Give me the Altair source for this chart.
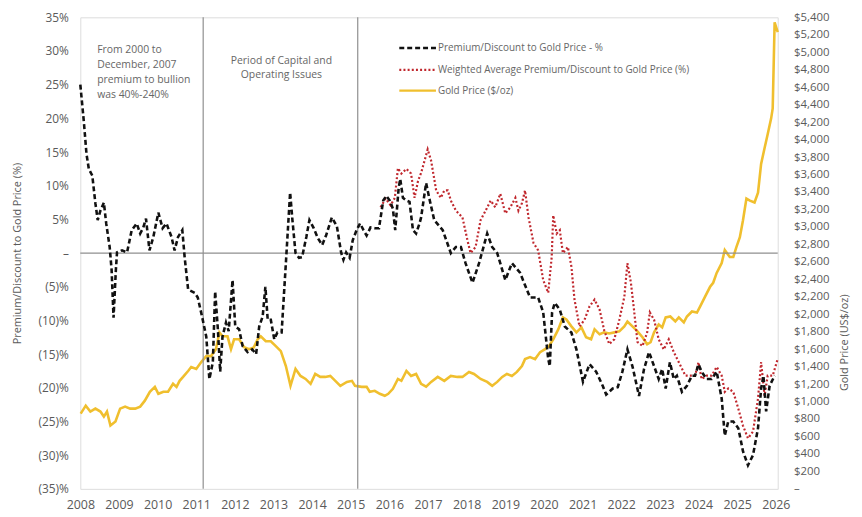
import altair as alt
import pandas as pd

# ---------------- data ----------------
prem_years = [2008.00, 2008.09, 2008.16, 2008.22, 2008.31, 2008.39, 2008.45, 2008.52, 2008.61, 2008.67,
              2008.76, 2008.81, 2008.86, 2008.92, 2008.95, 2009.08, 2009.21, 2009.33, 2009.46, 2009.55,
              2009.63, 2009.70, 2009.79, 2009.89, 2010.02, 2010.13, 2010.23, 2010.36, 2010.44, 2010.53,
              2010.64, 2010.70, 2010.79, 2010.96, 2011.04, 2011.15, 2011.26, 2011.34, 2011.43, 2011.49,
              2011.56, 2011.62, 2011.68, 2011.77, 2011.84, 2011.94, 2012.01, 2012.11, 2012.20, 2012.33,
              2012.45, 2012.55, 2012.63, 2012.72, 2012.79, 2012.85, 2012.93, 2013.02, 2013.10, 2013.21,
              2013.32, 2013.43, 2013.49, 2013.57, 2013.66, 2013.74, 2013.85, 2013.93, 2014.04, 2014.15,
              2014.26, 2014.36, 2014.51, 2014.64, 2014.75, 2014.81, 2014.88, 2014.97, 2015.05, 2015.15,
              2015.24, 2015.33, 2015.41, 2015.51, 2015.62, 2015.73, 2015.84, 2015.92, 2016.01, 2016.09,
              2016.15, 2016.24, 2016.28, 2016.35, 2016.44, 2016.52, 2016.61, 2016.69, 2016.78, 2016.82,
              2016.95, 2017.03, 2017.16, 2017.38, 2017.59, 2017.72, 2017.85, 2017.97, 2018.15, 2018.32,
              2018.53, 2018.66, 2018.79, 2019.00, 2019.17, 2019.38, 2019.64, 2019.85, 2019.98, 2020.11,
              2020.15, 2020.21, 2020.28, 2020.41, 2020.54, 2020.71, 2020.84, 2021.01, 2021.18, 2021.35,
              2021.52, 2021.61, 2021.78, 2021.91, 2022.03, 2022.16, 2022.29, 2022.46, 2022.59, 2022.72,
              2022.85, 2022.97, 2023.06, 2023.15, 2023.26, 2023.36, 2023.44, 2023.57, 2023.70, 2023.83,
              2023.91, 2024.00, 2024.08, 2024.21, 2024.34, 2024.47, 2024.60, 2024.68, 2024.77, 2024.90,
              2025.03, 2025.15, 2025.28, 2025.41, 2025.54, 2025.62, 2025.68, 2025.75, 2025.84, 2025.97]
prem_values = [25.0, 19.6, 14.7, 12.5, 11.5, 7.4, 4.9, 6.3, 7.5, 4.4,
               0.9, -2.5, -9.6, -2.5, 0.1, 0.4, 0.1, 3.4, 4.4, 2.9,
               3.8, 5.1, 0.4, 2.4, 6.0, 3.7, 4.4, 2.4, 0.4, 2.4,
               3.4, -0.6, -5.4, -5.9, -6.6, -9.4, -12.4, -18.7, -16.2, -5.7,
               -11.3, -17.6, -12.4, -10.3, -11.6, -4.0, -10.9, -11.3, -13.8, -14.7,
               -14.3, -15.0, -10.9, -9.4, -5.0, -9.9, -9.9, -12.8, -11.8, -11.8,
               -1.5, 9.0, 4.9, 0.0, -0.7, -0.6, 2.4, 4.9, 3.7, 2.2,
               1.2, 2.6, 5.3, 4.0, 0.1, -1.0, 0.1, -0.7, 1.9, 3.4,
               4.4, 3.4, 2.6, 3.8, 3.7, 3.7, 7.8, 8.5, 7.8, 6.6,
               3.4, 9.7, 11.0, 8.2, 7.8, 7.6, 3.4, 2.9, 4.4, 5.3,
               10.4, 8.2, 4.9, 3.4, 0.0, 0.9, 0.9, -1.5, -4.4, -1.5,
               2.9, 0.9, 0.0, -4.0, -1.5, -2.9, -6.6, -6.6, -8.8, -15.7,
               -16.8, -8.8, -7.4, -8.4, -10.9, -11.8, -14.3, -19.1, -16.5, -17.6,
               -19.7, -21.0, -20.1, -19.9, -17.6, -14.3, -16.8, -21.2, -17.2, -14.7,
               -16.8, -18.7, -17.2, -20.1, -16.2, -18.7, -18.2, -20.6, -19.7, -18.2,
               -18.2, -16.5, -17.6, -18.7, -18.7, -17.6, -21.6, -27.1, -25.0, -25.0,
               -26.0, -29.4, -31.5, -30.0, -26.0, -20.1, -18.2, -23.5, -19.7, -18.2]

wavg_years = [2015.77, 2015.90, 2016.03, 2016.14, 2016.22, 2016.31, 2016.44, 2016.56, 2016.65, 2016.74,
              2016.82, 2016.99, 2017.08, 2017.21, 2017.33, 2017.42, 2017.51, 2017.59, 2017.72, 2017.89,
              2018.02, 2018.10, 2018.23, 2018.36, 2018.49, 2018.62, 2018.74, 2018.87, 2019.00, 2019.13,
              2019.26, 2019.34, 2019.43, 2019.51, 2019.60, 2019.73, 2019.85, 2019.98, 2020.11, 2020.20,
              2020.24, 2020.33, 2020.41, 2020.49, 2020.62, 2020.71, 2020.79, 2020.92, 2021.05, 2021.18,
              2021.31, 2021.44, 2021.56, 2021.69, 2021.82, 2021.95, 2022.08, 2022.16, 2022.25, 2022.33,
              2022.42, 2022.55, 2022.67, 2022.74, 2022.85, 2022.97, 2023.10, 2023.23, 2023.36, 2023.49,
              2023.66, 2023.79, 2023.91, 2024.00, 2024.08, 2024.21, 2024.34, 2024.47, 2024.60, 2024.68,
              2024.77, 2024.90, 2025.03, 2025.15, 2025.28, 2025.41, 2025.54, 2025.62, 2025.71, 2025.79,
              2025.92, 2026.05]
wavg_values = [6.8, 8.1, 7.1, 8.2, 12.6, 11.8, 12.5, 11.8, 8.2, 10.7,
               11.9, 15.4, 13.7, 9.3, 8.2, 9.3, 9.3, 7.8, 6.3, 5.3,
               1.9, 0.0, 0.9, 4.9, 6.3, 7.8, 6.8, 8.8, 5.9, 6.8,
               8.2, 6.3, 7.4, 9.3, 5.3, 1.5, 0.4, -4.0, -5.9, -0.6,
               5.6, 2.9, 3.4, 0.0, 0.9, -2.0, -6.9, -10.9, -9.9, -7.9,
               -6.9, -8.4, -11.5, -13.5, -12.8, -9.9, -6.5, -1.5, -4.4, -8.4,
               -13.2, -13.8, -11.8, -8.8, -9.9, -12.8, -14.3, -12.8, -14.7, -16.2,
               -18.2, -18.2, -18.2, -16.2, -18.7, -18.2, -18.2, -16.9, -18.2, -20.6,
               -20.1, -20.6, -23.1, -25.6, -27.5, -26.5, -21.6, -16.2, -21.2, -18.2,
               -18.2, -15.7]

gold_years = [2008.01, 2008.14, 2008.26, 2008.39, 2008.52, 2008.61, 2008.69, 2008.78, 2008.91, 2009.03,
              2009.16, 2009.29, 2009.42, 2009.55, 2009.67, 2009.80, 2009.93, 2010.02, 2010.15, 2010.27,
              2010.40, 2010.49, 2010.57, 2010.66, 2010.79, 2010.87, 2011.00, 2011.13, 2011.26, 2011.38,
              2011.51, 2011.60, 2011.68, 2011.81, 2011.90, 2011.98, 2012.11, 2012.24, 2012.37, 2012.49,
              2012.59, 2012.67, 2012.80, 2012.93, 2013.06, 2013.19, 2013.32, 2013.44, 2013.57, 2013.70,
              2013.83, 2013.96, 2014.08, 2014.21, 2014.34, 2014.47, 2014.60, 2014.73, 2014.90, 2015.03,
              2015.11, 2015.28, 2015.41, 2015.49, 2015.62, 2015.75, 2015.88, 2015.97, 2016.09, 2016.22,
              2016.31, 2016.44, 2016.56, 2016.69, 2016.82, 2016.95, 2017.08, 2017.25, 2017.42, 2017.59,
              2017.76, 2017.89, 2018.06, 2018.19, 2018.36, 2018.53, 2018.66, 2018.79, 2018.92, 2019.04,
              2019.17, 2019.30, 2019.43, 2019.51, 2019.64, 2019.77, 2019.90, 2020.03, 2020.13, 2020.24,
              2020.37, 2020.49, 2020.58, 2020.71, 2020.84, 2020.97, 2021.09, 2021.22, 2021.31, 2021.44,
              2021.56, 2021.69, 2021.82, 2021.95, 2022.08, 2022.16, 2022.29, 2022.42, 2022.55, 2022.67,
              2022.76, 2022.85, 2022.97, 2023.06, 2023.15, 2023.27, 2023.40, 2023.49, 2023.62, 2023.70,
              2023.83, 2023.96, 2024.04, 2024.17, 2024.30, 2024.38, 2024.47, 2024.60, 2024.68, 2024.81,
              2024.90, 2024.98, 2025.07, 2025.15, 2025.24, 2025.33, 2025.45, 2025.54, 2025.62, 2025.71,
              2025.79, 2025.88, 2025.92, 2025.97, 2026.05]
gold_values = [862, 953, 885, 919, 885, 828, 885, 726, 771, 919,
               942, 919, 919, 942, 1010, 1112, 1168, 1089, 1112, 1112,
               1203, 1168, 1237, 1282, 1350, 1395, 1373, 1452, 1520, 1520,
               1600, 1792, 1747, 1747, 1600, 1713, 1713, 1622, 1600, 1620,
               1713, 1747, 1690, 1690, 1634, 1577, 1407, 1180, 1373, 1293,
               1259, 1203, 1316, 1282, 1282, 1293, 1237, 1180, 1225, 1237,
               1180, 1168, 1168, 1112, 1123, 1089, 1066, 1089, 1146, 1259,
               1237, 1350, 1293, 1316, 1203, 1170, 1225, 1282, 1237, 1293,
               1282, 1282, 1339, 1316, 1259, 1225, 1180, 1225, 1282, 1316,
               1293, 1339, 1407, 1486, 1509, 1486, 1566, 1600, 1634, 1713,
               1826, 1963, 1940, 1861, 1792, 1849, 1736, 1713, 1826, 1770,
               1792, 1780, 1792, 1804, 1861, 1917, 1861, 1804, 1736, 1656,
               1679, 1792, 1883, 1849, 1963, 1974, 1917, 1963, 1906, 1974,
               2031, 2019, 2087, 2201, 2314, 2360, 2473, 2587, 2734, 2655,
               2655, 2768, 2882, 3074, 3324, 3301, 3279, 3392, 3721, 3903,
               4061, 4243, 4356, 5343, 5230]

period_lines = [2011.18, 2015.18]
year_ticks = list(range(2008, 2027))
pct_ticks = list(range(-35, 40, 5))
price_ticks = list(range(0, 5600, 200))

annotation_left = ["From 2000 to", "December, 2007", "premium to bullion", "was 40%-240%"]
annotation_mid = ["Period of Capital and", "Operating Issues"]
legend_labels = ["Premium/Discount to Gold Price - %",
                 "Weighted Average Premium/Discount to Gold Price (%)",
                 "Gold Price ($/oz)"]

prem_df = pd.DataFrame({"year": prem_years, "pct": prem_values})
wavg_df = pd.DataFrame({"year": wavg_years, "pct": wavg_values})
gold_df = pd.DataFrame({"year": gold_years, "price": gold_values})
lines_df = pd.DataFrame({"year": period_lines})
zero_df = pd.DataFrame({"pct": [0]})

# ---------------- style ----------------
FONT = "Open Sans"
LABEL = "#5a5a5a"
GRAYLINE = "#8f8f8f"
BLACK = "#111111"
RED = "#c0272d"
GOLD = "#f0bf2e"

x_scale = alt.Scale(domain=[2008, 2026.05], nice=False, zero=False)
left_scale = alt.Scale(domain=[-35, 35], nice=False, zero=False)
right_scale = alt.Scale(domain=[0, 5400], nice=False, zero=False)

x_axis = alt.Axis(values=year_ticks, format="d", title=None, domain=False, ticks=False, grid=False,
                  labelFlush=False, labelOverlap=False, labelPadding=10, labelFontSize=12.5,
                  labelColor=LABEL, labelFont=FONT)
X = alt.X("year:Q", scale=x_scale, axis=x_axis)

left_axis = alt.Axis(values=pct_ticks, orient="left", domain=False, ticks=False, grid=False,
                     labelFlush=False, labelOverlap=False, labelPadding=12, labelFontSize=12,
                     labelColor=LABEL, labelFont=FONT,
                     labelExpr="datum.value == 0 ? '–' : (datum.value < 0 ? '(' + abs(datum.value) + ')%' : datum.value + '%')",
                     title="Premium/Discount to Gold Price (%)", titleFont=FONT, titleFontSize=11,
                     titleFontWeight="normal", titleColor=LABEL, titleAngle=270,
                     titleX=-63, titleY=238, titleAlign="center", titleBaseline="middle")

right_axis = alt.Axis(values=price_ticks, orient="right", domain=False, ticks=False, grid=False,
                      labelFlush=False, labelOverlap=False, labelPadding=16, labelFontSize=11.5,
                      labelColor=LABEL, labelFont=FONT,
                      labelExpr="datum.value == 0 ? '–' : '$' + format(datum.value, ',')",
                      title="Gold Price (US$/oz)", titleFont=FONT, titleFontSize=11,
                      titleFontWeight="normal", titleColor=LABEL, titleAngle=270,
                      titleX=67, titleY=328, titleAlign="center", titleBaseline="middle")

Y_left = alt.Y("pct:Q", scale=left_scale, axis=left_axis)

zero_rule = alt.Chart(zero_df).mark_rule(color=GRAYLINE, strokeWidth=1.2).encode(y=Y_left)
period_rule = alt.Chart(lines_df).mark_rule(color=GRAYLINE, strokeWidth=1.2).encode(x=X)

wavg_line = alt.Chart(wavg_df).mark_line(color=RED, strokeWidth=2.2, strokeDash=[2, 2.2]).encode(x=X, y=Y_left)
prem_line = alt.Chart(prem_df).mark_line(color=BLACK, strokeWidth=2.6, strokeDash=[5, 3]).encode(x=X, y=Y_left)

dummy = alt.Data(values=[{}])
ann1 = alt.Chart(dummy).mark_text(text=annotation_left, align="left", baseline="middle", lineHeight=15.3,
                                  font=FONT, fontSize=10.5, color="#666666").encode(
    x=alt.value(17), y=alt.value(33))
ann2 = alt.Chart(dummy).mark_text(text=annotation_mid, align="center", baseline="middle", lineHeight=14.5,
                                  font=FONT, fontSize=10.5, color="#666666").encode(
    x=alt.value(203), y=alt.value(44))

legend_layers = []
styles = [dict(color=BLACK, strokeWidth=2.6, strokeDash=[5, 3]),
          dict(color=RED, strokeWidth=2.2, strokeDash=[2, 2.2]),
          dict(color=GOLD, strokeWidth=2.5)]
legend_y = [31, 53, 74]
for lbl, st, yy in zip(legend_labels, styles, legend_y):
    legend_layers.append(alt.Chart(dummy).mark_rule(**st).encode(
        x=alt.value(322), x2=alt.value(359), y=alt.value(yy)))
    legend_layers.append(alt.Chart(dummy).mark_text(text=lbl, align="left", baseline="middle",
                                                    font=FONT, fontSize=10, color="#666666").encode(
        x=alt.value(361), y=alt.value(yy)))

left_layer = alt.layer(zero_rule, period_rule, wavg_line, prem_line, ann1, ann2, *legend_layers)

gold_line = alt.Chart(gold_df).mark_line(color=GOLD, strokeWidth=2.6).encode(
    x=X, y=alt.Y("price:Q", scale=right_scale, axis=right_axis))

chart = alt.layer(gold_line, left_layer).resolve_scale(y="independent").properties(
    width=704, height=476,
    autosize=alt.AutoSizeParams(type="none"),
    padding={"left": 73, "top": 7, "right": 77, "bottom": 26},
).configure_view(stroke="#9a9a9a", strokeWidth=1).configure(background="white")

chart.save("out.html", embed_options={"renderer": "svg", "actions": False})
